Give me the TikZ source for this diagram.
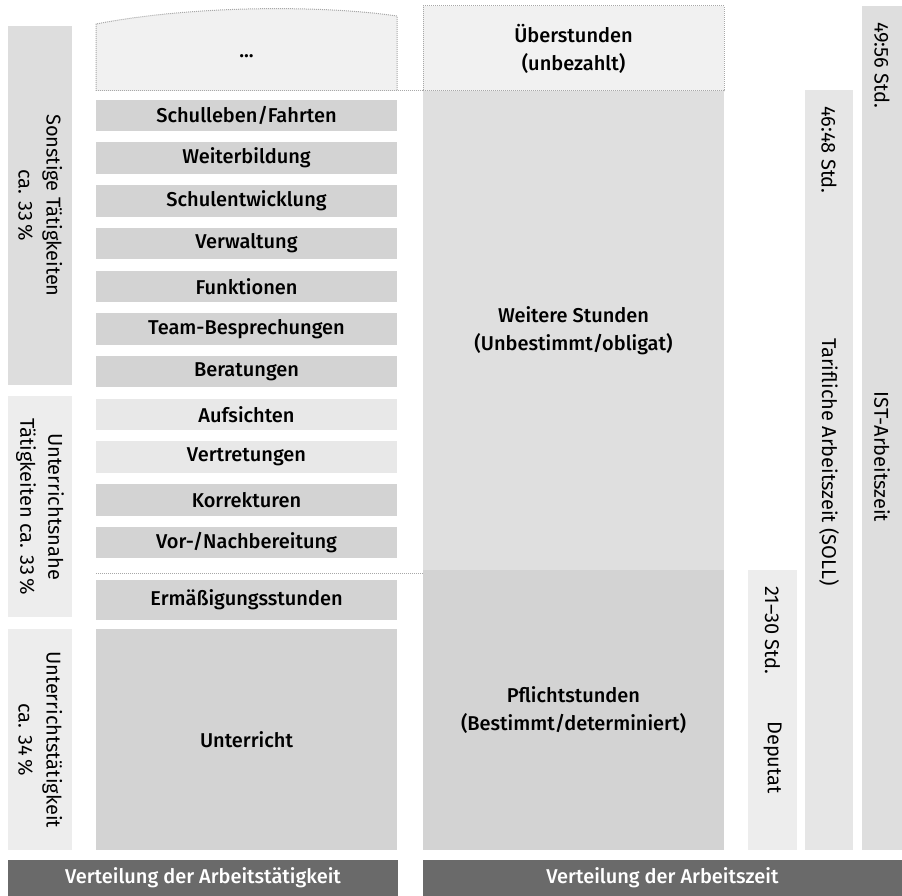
\documentclass[tikz,border=0pt]{standalone}
\usepackage{fontspec}
\setmainfont{Fira Sans}[UprightFont={* Medium}]
\newfontfamily\thinfont{Fira Sans}
\usetikzlibrary{positioning}

\definecolor{taskgray}{HTML}{D3D3D3}
\definecolor{tasklight}{HTML}{E8E8E8}
\definecolor{labelmid}{HTML}{DDDDDD}
\definecolor{labellight}{HTML}{EDEDED}
\definecolor{palefill}{HTML}{F1F1F1}
\definecolor{weiterfill}{HTML}{DFDFDF}
\definecolor{pflichtfill}{HTML}{D3D3D3}
\definecolor{deputatfill}{HTML}{EDEDED}
\definecolor{sollfill}{HTML}{E6E6E6}
\definecolor{istfill}{HTML}{DEDEDE}
\definecolor{footgray}{HTML}{6A6A6A}
\definecolor{dotgray}{HTML}{A8A8A8}

\begin{document}
\begin{tikzpicture}[
  x=1pt,
  y=-1pt,
  node distance=10.8pt,
  font=\fontsize{20}{28}\selectfont,
  taskbox/.style={
    rectangle,
    fill=taskgray,
    text=black,
    minimum width=301pt,
    minimum height=31.5pt,
    inner sep=0pt,
    text centered
  },
  lighttask/.style={
    taskbox,
    fill=tasklight
  },
  stackbox/.style={
    rectangle,
    text=black,
    minimum width=301pt,
    inner sep=0pt,
    align=center
  },
  sidebar/.style={
    rectangle,
    rotate=-90,
    inner sep=0pt,
    align=center,
    font=\thinfont\fontsize{20}{28}\selectfont
  },
  vtext/.style={
    rotate=-90,
    inner sep=0pt,
    font=\thinfont\fontsize{20}{28}\selectfont
  },
  footbar/.style={
    rectangle,
    fill=footgray,
    text=white,
    minimum height=36pt,
    inner sep=0pt
  },
  sepline/.style={
    densely dotted,
    draw=dotgray,
    line width=1pt
  }
]
\useasboundingbox (0,0) rectangle (902,896);

% Open top of the activity stack
\filldraw[sepline, fill=palefill] (96,91) -- (96,24) .. controls (200,4) and (330,6) .. (397,16) -- (397,91);
\node (dots) at (246.5,56) {...};

% Activity categories
\node[sidebar, fill=labelmid, minimum width=359pt, minimum height=64pt] (sonst) at (40,205.5) {Sonstige Tätigkeiten\\ca. 33\,\%};
\node[sidebar, fill=labellight, minimum width=221pt, minimum height=64pt] (nahe) at (40,506.5) {Unterrichtsnahe\\Tätigkeiten ca. 33\,\%};
\node[sidebar, fill=labellight, minimum width=221pt, minimum height=64pt] (taetig) at (40,739.5) {Unterrichtstätigkeit\\ca. 34\,\%};

% Activities
\node[taskbox] (schul) at (246.5,115.5) {Schulleben/Fahrten};
\node[taskbox, below=of schul] (weiter) {Weiterbildung};
\node[taskbox, below=of weiter] (entw) {Schulentwicklung};
\node[taskbox, below=of entw] (verw) {Verwaltung};
\node[taskbox, below=of verw] (funk) {Funktionen};
\node[taskbox, below=of funk] (team) {Team-Besprechungen};
\node[taskbox, below=of team] (berat) {Beratungen};
\node[lighttask, below=of berat] (aufs) {Aufsichten};
\node[lighttask, below=of aufs] (vertr) {Vertretungen};
\node[taskbox, below=of vertr] (korr) {Korrekturen};
\node[taskbox, below=of korr] (vor) {Vor-/Nachbereitung};
\node[taskbox, minimum height=40pt] (erm) at (246.5,600) {Ermäßigungsstunden};
\node[taskbox, minimum height=221pt] (unt) at (246.5,739.5) {Unterricht};

% Working time blocks
\node[stackbox, sepline, fill=palefill, minimum height=85pt] (ueber) at (573.5,48.5) {Überstunden\\(unbezahlt)};
\node[stackbox, fill=weiterfill, minimum height=479pt] (weitere) at (573.5,330.5) {Weitere Stunden\\(Unbestimmt/obligat)};
\node[stackbox, fill=pflichtfill, minimum height=280pt] (pflicht) at (573.5,710) {Pflichtstunden\\(Bestimmt/determiniert)};

% Borders between the blocks
\draw[sepline] (dots.center -| schul.west) ++(0,35) coordinate (dotsw) -- (dotsw -| weitere.west);
\draw[sepline] (vor.south west) ++(0,15.5) coordinate (sepw) -- (sepw -| pflicht.west);

% Hour bars
\node[sidebar, fill=deputatfill, minimum width=280pt, minimum height=49pt] (deputat) at (772.5,710) {};
\node[sidebar, fill=sollfill, minimum width=760pt, minimum height=48pt] (soll) at (829,470) {};
\node[sidebar, fill=istfill, minimum width=844pt, minimum height=42pt] (ist) at (883,428) {};

\node[vtext, anchor=west] (deph) at (772.5,586) {21–30 Std.};
\node[vtext, anchor=east] (deplbl) at (772.5,794) {Deputat};
\node[vtext, anchor=west] (sollh) at (829,106) {46:48 Std.};
\node[vtext] (solllbl) at (829,462) {Tarifliche Arbeitszeit (SOLL)};
\node[vtext, anchor=west] (isth) at (882,22) {49:56 Std.};
\node[vtext] (istlbl) at (882,457) {IST-Arbeitszeit};

% Footer
\node[footbar, minimum width=390pt] (footl) at (203,878) {Verteilung der Arbeitstätigkeit};
\node[footbar, minimum width=479pt] (footr) at (662.5,878) {Verteilung der Arbeitszeit};

\end{tikzpicture}
\end{document}
